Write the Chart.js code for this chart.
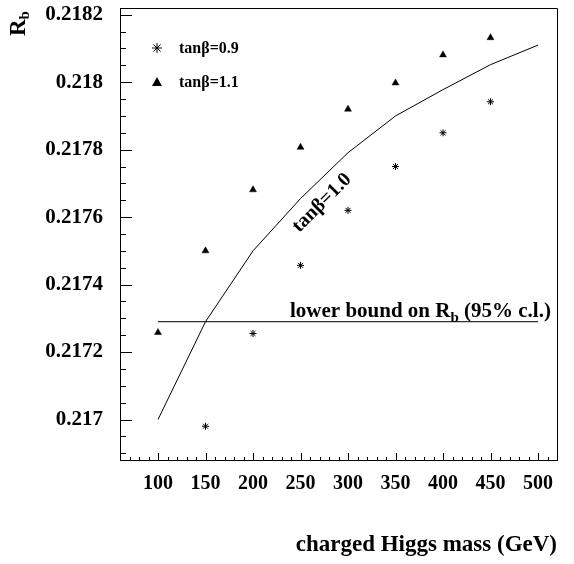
<!DOCTYPE html>
<html>
<head>
<meta charset="utf-8">
<script src="https://cdn.jsdelivr.net/npm/chart.js@4"></script>
<style>
  html, body { margin: 0; background: #fff; }
  #wrap { width: 574px; height: 564px; }
</style>
</head>
<body>
<div id="wrap"><canvas id="chart"></canvas></div>
<script>
// tanb = 0.9 (stars)
const tan09Mass = [150, 200, 250, 300, 350, 400, 450];
const tan09Rb = [0.21698, 0.217255, 0.217457, 0.21762, 0.21775, 0.21785, 0.217942];
// tanb = 1.1 (triangles)
const tan11Mass = [100, 150, 200, 250, 300, 350, 400, 450];
const tan11Rb = [0.217258, 0.2175, 0.217681, 0.217807, 0.21792, 0.217998, 0.218081, 0.218132];
// tanb = 1.0 (curve)
const tan10Mass = [100, 150, 200, 250, 300, 350, 400, 450, 500];
const tan10Rb = [0.217, 0.21729, 0.2175, 0.217655, 0.217791, 0.2179, 0.217978, 0.218052, 0.21811];
// lower bound on Rb
const boundMass = [100, 500];
const boundRb = [0.21729, 0.21729];

const xTicks = [100, 150, 200, 250, 300, 350, 400, 450, 500];
const yTicks = [0.217, 0.2172, 0.2174, 0.2176, 0.2178, 0.218, 0.2182];
const yTickLabels = ['0.217', '0.2172', '0.2174', '0.2176', '0.2178', '0.218', '0.2182'];

const serif = "'Liberation Serif', 'Times New Roman', serif";
Chart.defaults.font.family = serif;
Chart.defaults.color = '#000';

function pts(xs, ys) {
    return xs.map((x, i) => ({ x: x, y: ys[i] }));
}

// inward ticks, frame and text labels
const decor = {
    id: 'decor',
    afterDraw(chart) {
        const ctx = chart.ctx;
        const xs = chart.scales.x, ys = chart.scales.y;
        const a = chart.chartArea;
        ctx.save();
        ctx.strokeStyle = '#000';
        ctx.lineWidth = 1;
        ctx.beginPath();
        // top and right frame
        ctx.moveTo(a.left, a.top + 0.5);
        ctx.lineTo(a.right + 0.5, a.top + 0.5);
        ctx.lineTo(a.right + 0.5, a.bottom);
        // x ticks every 10, long every 50
        for (let k = 7; k <= 52; k++) {
            const px = Math.round(xs.getPixelForValue(k * 10)) + 0.5;
            const len = k % 5 === 0 ? 7 : 3;
            ctx.moveTo(px, a.bottom);
            ctx.lineTo(px, a.bottom - len);
        }
        // y ticks every 0.00005, long every 0.0002
        for (let k = 0; k <= 26; k++) {
            const v = 0.2169 + k * 0.00005;
            const py = Math.round(ys.getPixelForValue(v)) + 0.5;
            if (py > a.bottom - 2 || py < a.top) continue;
            const len = (k - 2) % 4 === 0 ? 12 : 6;
            ctx.moveTo(a.left, py);
            ctx.lineTo(a.left + len, py);
        }
        ctx.stroke();

        ctx.fillStyle = '#000';
        ctx.textBaseline = 'middle';
        ctx.textAlign = 'left';

        // legend
        const lx = 157;
        ctx.beginPath();
        const r = 5;
        for (let i = 0; i < 4; i++) {
            const ang = i * Math.PI / 4;
            ctx.moveTo(lx - r * Math.cos(ang), 48 - r * Math.sin(ang));
            ctx.lineTo(lx + r * Math.cos(ang), 48 + r * Math.sin(ang));
        }
        ctx.stroke();
        ctx.beginPath();
        ctx.moveTo(lx, 77);
        ctx.lineTo(lx + 5, 86);
        ctx.lineTo(lx - 5, 86);
        ctx.closePath();
        ctx.fill();
        ctx.font = 'bold 16px ' + serif;
        ctx.fillText('tan\u03b2=0.9', 179, 49);
        ctx.fillText('tan\u03b2=1.1', 179, 83);

        // lower bound label
        ctx.textBaseline = 'alphabetic';
        ctx.font = 'bold 21px ' + serif;
        let tx = 290;
        const ty = 317;
        const s1 = 'lower bound on R';
        ctx.fillText(s1, tx, ty);
        tx += ctx.measureText(s1).width;
        ctx.font = 'bold 15px ' + serif;
        ctx.fillText('b', tx, ty + 5);
        tx += ctx.measureText('b').width;
        ctx.font = 'bold 21px ' + serif;
        ctx.fillText(' (95% c.l.)', tx, ty);

        // curve label
        ctx.save();
        ctx.translate(322, 203);
        ctx.rotate(-Math.PI / 4);
        ctx.textAlign = 'center';
        ctx.textBaseline = 'middle';
        ctx.font = 'bold 20px ' + serif;
        ctx.fillText('tan\u03b2=1.0', 0, 0);
        ctx.restore();

        // y axis title R_b
        ctx.save();
        ctx.translate(25, 36);
        ctx.rotate(-Math.PI / 2);
        ctx.textAlign = 'left';
        ctx.textBaseline = 'alphabetic';
        ctx.font = 'bold 23px ' + serif;
        ctx.fillText('R', 0, 0);
        const rw = ctx.measureText('R').width;
        ctx.font = 'bold 15px ' + serif;
        ctx.fillText('b', rw, 4);
        ctx.restore();

        ctx.restore();
    }
};

new Chart(document.getElementById('chart'), {
    type: 'scatter',
    data: {
        datasets: [
            {
                label: 'tan\u03b2=0.9',
                data: pts(tan09Mass, tan09Rb),
                pointStyle: 'star',
                pointRadius: 3.5,
                borderColor: '#000',
                borderWidth: 1,
                backgroundColor: '#000'
            },
            {
                label: 'tan\u03b2=1.1',
                data: pts(tan11Mass, tan11Rb),
                pointStyle: 'triangle',
                pointRadius: 4,
                borderColor: '#000',
                borderWidth: 0.5,
                backgroundColor: '#000'
            },
            {
                label: 'tan\u03b2=1.0',
                data: pts(tan10Mass, tan10Rb),
                showLine: true,
                pointRadius: 0,
                borderColor: '#000',
                borderWidth: 1,
                tension: 0
            },
            {
                label: 'lower bound',
                data: pts(boundMass, boundRb),
                showLine: true,
                pointRadius: 0,
                borderColor: '#333',
                borderWidth: 1.3,
                tension: 0
            }
        ]
    },
    options: {
        responsive: true,
        maintainAspectRatio: false,
        animation: false,
        events: [],
        layout: { padding: { top: 8, right: 17, bottom: 0, left: 0 } },
        plugins: {
            legend: { display: false },
            tooltip: { enabled: false }
        },
        scales: {
            x: {
                type: 'linear',
                min: 60,
                max: 520,
                afterBuildTicks: s => { s.ticks = xTicks.map(v => ({ value: v })); },
                afterFit: s => { s.height = 104; s.paddingLeft = 0; s.paddingRight = 0; },
                grid: { display: false, drawTicks: false },
                border: { display: true, color: '#000', width: 1 },
                ticks: {
                    padding: 12,
                    maxRotation: 0,
                    autoSkip: false,
                    font: { size: 20, weight: 'bold' }
                },
                title: {
                    display: true,
                    text: 'charged Higgs mass (GeV)',
                    align: 'end',
                    font: { size: 23, weight: 'bold' },
                    padding: { top: 0, bottom: 5 }
                }
            },
            y: {
                type: 'linear',
                min: 0.21688,
                max: 0.21822,
                afterBuildTicks: s => { s.ticks = yTicks.map(v => ({ value: v })); },
                afterFit: s => { s.width = 120; s.paddingTop = 0; s.paddingBottom = 0; },
                grid: { display: false, drawTicks: false },
                border: { display: true, color: '#000', width: 1 },
                ticks: {
                    padding: 17,
                    autoSkip: false,
                    font: { size: 21, weight: 'bold' },
                    callback: (v, i) => yTickLabels[i]
                }
            }
        }
    },
    plugins: [decor]
});
</script>
</body>
</html>
